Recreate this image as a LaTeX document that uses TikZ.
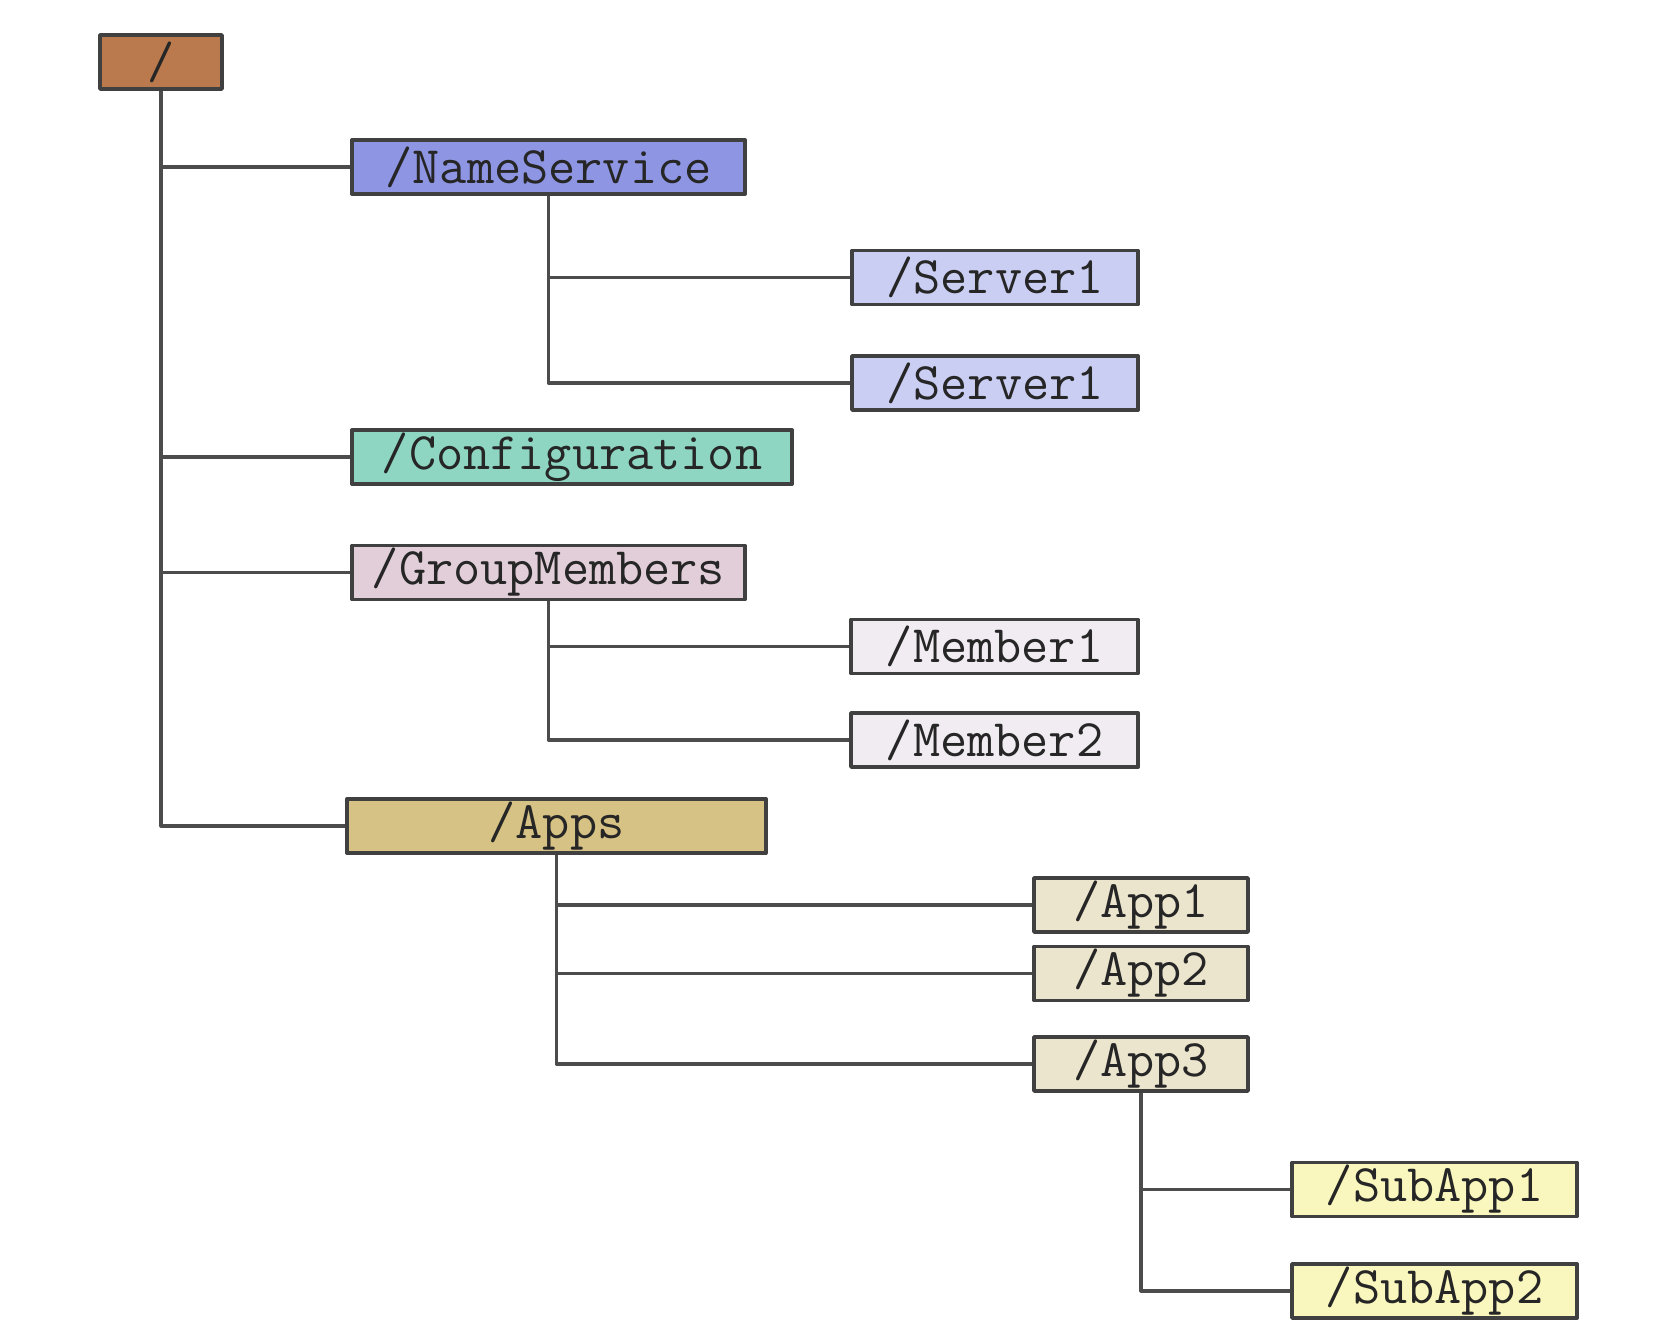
\documentclass[tikz,border=0pt]{standalone}
\usetikzlibrary{positioning}
\definecolor{rootbrown}{RGB}{186,122,78}
\definecolor{nsblue}{RGB}{142,150,228}
\definecolor{srvblue}{RGB}{202,206,242}
\definecolor{cfgteal}{RGB}{142,214,194}
\definecolor{grppink}{RGB}{226,206,216}
\definecolor{mbrwhite}{RGB}{240,236,242}
\definecolor{appstan}{RGB}{214,194,132}
\definecolor{appbeige}{RGB}{236,229,206}
\definecolor{subyellow}{RGB}{250,247,190}
\begin{document}
\begin{tikzpicture}[x=0.01cm, y=-0.01cm, font=\ttfamily\fontsize{15}{18}\selectfont, line join=round]
    \tikzset{dirbox/.style={draw=black!75, line width=1pt, inner sep=0pt, minimum height=0.54cm, text=black!85},
             link/.style={draw=black!70, line width=0.9pt}}
    \useasboundingbox (0,0) rectangle (1664,1336);
    % root and first level
    \node[dirbox, fill=rootbrown, minimum width=1.22cm] (root) at (161,62) {/};
    \node[dirbox, fill=nsblue, minimum width=3.93cm] (nameservice) at (548.5,167) {/NameService};
    \node[dirbox, fill=cfgteal, minimum width=4.40cm] (config) at (572,457) {/Configuration};
    \node[dirbox, fill=grppink, minimum width=3.93cm] (groupmembers) at (548.5,572.5) {/GroupMembers};
    \node[dirbox, fill=appstan, minimum width=4.19cm] (apps) at (556.5,826) {/Apps};
    % second level
    \node[dirbox, fill=srvblue, minimum width=2.86cm] (servera) at (995,277.5) {/Server1};
    \node[dirbox, fill=srvblue, minimum width=2.86cm] (serverb) at (995,383) {/Server1};
    \node[dirbox, fill=mbrwhite, minimum width=2.87cm] (membera) at (994.5,646.5) {/Member1};
    \node[dirbox, fill=mbrwhite, minimum width=2.87cm] (memberb) at (994.5,740) {/Member2};
    \foreach \i/\y in {1/905,2/973.5,3/1064}
        \node[dirbox, fill=appbeige, minimum width=2.14cm] (app\i) at (1141,\y) {/App\i};
    % third level
    \foreach \i/\y in {1/1189.5,2/1291}
        \node[dirbox, fill=subyellow, minimum width=2.85cm] (subapp\i) at (1434.5,\y) {/SubApp\i};
    % connectors
    \foreach \n in {nameservice,config,groupmembers,apps}
        \draw[link] (root.south) |- (\n.west);
    \foreach \n in {servera,serverb}
        \draw[link] (nameservice.south) |- (\n.west);
    \foreach \n in {membera,memberb}
        \draw[link] (groupmembers.south) |- (\n.west);
    \foreach \n in {app1,app2,app3}
        \draw[link] (apps.south) |- (\n.west);
    \foreach \n in {subapp1,subapp2}
        \draw[link] (app3.south) |- (\n.west);
\end{tikzpicture}
\end{document}
